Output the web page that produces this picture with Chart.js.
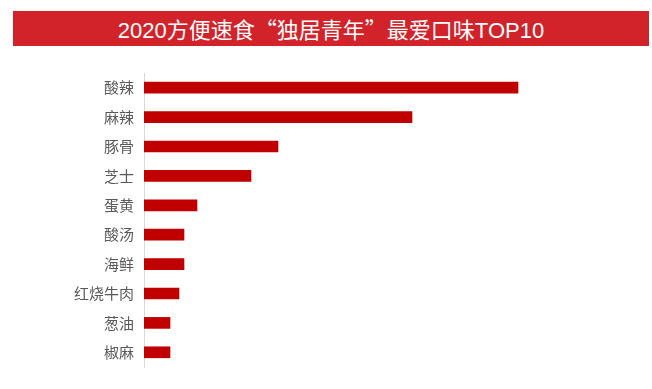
<!DOCTYPE html>
<html>
<head>
<meta charset="utf-8">
<script src="https://cdn.jsdelivr.net/npm/chart.js@4/dist/chart.umd.min.js"></script>
<style>
    html, body { margin: 0; padding: 0; background: #fff; }
    .wrap { position: relative; width: 652px; height: 389px; overflow: hidden; }
    .title-bar {
        position: absolute; left: 13px; top: 11px; width: 636px; height: 35px;
        background: #d2232a; color: #fff; text-align: center;
        font: 22px "Liberation Sans", "Noto Sans CJK SC", sans-serif; line-height: 35px;
    }
    .title-bar .q { font-family: "Noto Sans CJK SC", sans-serif; }
    #chart { position: absolute; left: 0; top: 0; }
</style>
</head>
<body>
<div class="wrap">
    <div class="title-bar">2020方便速食<span class="q">“</span>独居青年<span class="q">”</span>最爱口味TOP10</div>
    <canvas id="chart" width="652" height="389"></canvas>
</div>
<script>
// 口味类别与占比
const flavors = ['酸辣', '麻辣', '豚骨', '芝士', '蛋黄', '酸汤', '海鲜', '红烧牛肉', '葱油', '椒麻'];
const shares = [74.8, 53.6, 26.8, 21.4, 10.6, 8.0, 8.0, 7.0, 5.2, 5.2];
const axisMax = 100;

document.addEventListener('DOMContentLoaded', function() {
    const ctx = document.getElementById('chart').getContext('2d');

    new Chart(ctx, {
        type: 'bar',
        data: {
            labels: flavors,
            datasets: [{
                data: shares,
                backgroundColor: '#c00000',
                borderWidth: 0,
                barThickness: 11
            }]
        },
        options: {
            indexAxis: 'y',
            responsive: false,
            animation: false,
            layout: {
                padding: { top: 73, bottom: 22, left: 0, right: 8 }
            },
            scales: {
                x: {
                    display: false,
                    min: 0,
                    max: axisMax
                },
                y: {
                    grid: { display: false, drawTicks: false },
                    border: { display: true, color: '#d9d9d9', width: 1 },
                    ticks: {
                        color: '#595959',
                        padding: 10,
                        font: { family: '"Noto Sans CJK SC", sans-serif', size: 15 }
                    },
                    afterFit: function(scale) {
                        scale.width = 144;
                    }
                }
            },
            plugins: {
                legend: { display: false },
                tooltip: { enabled: false }
            }
        }
    });
});
</script>
</body>
</html>
